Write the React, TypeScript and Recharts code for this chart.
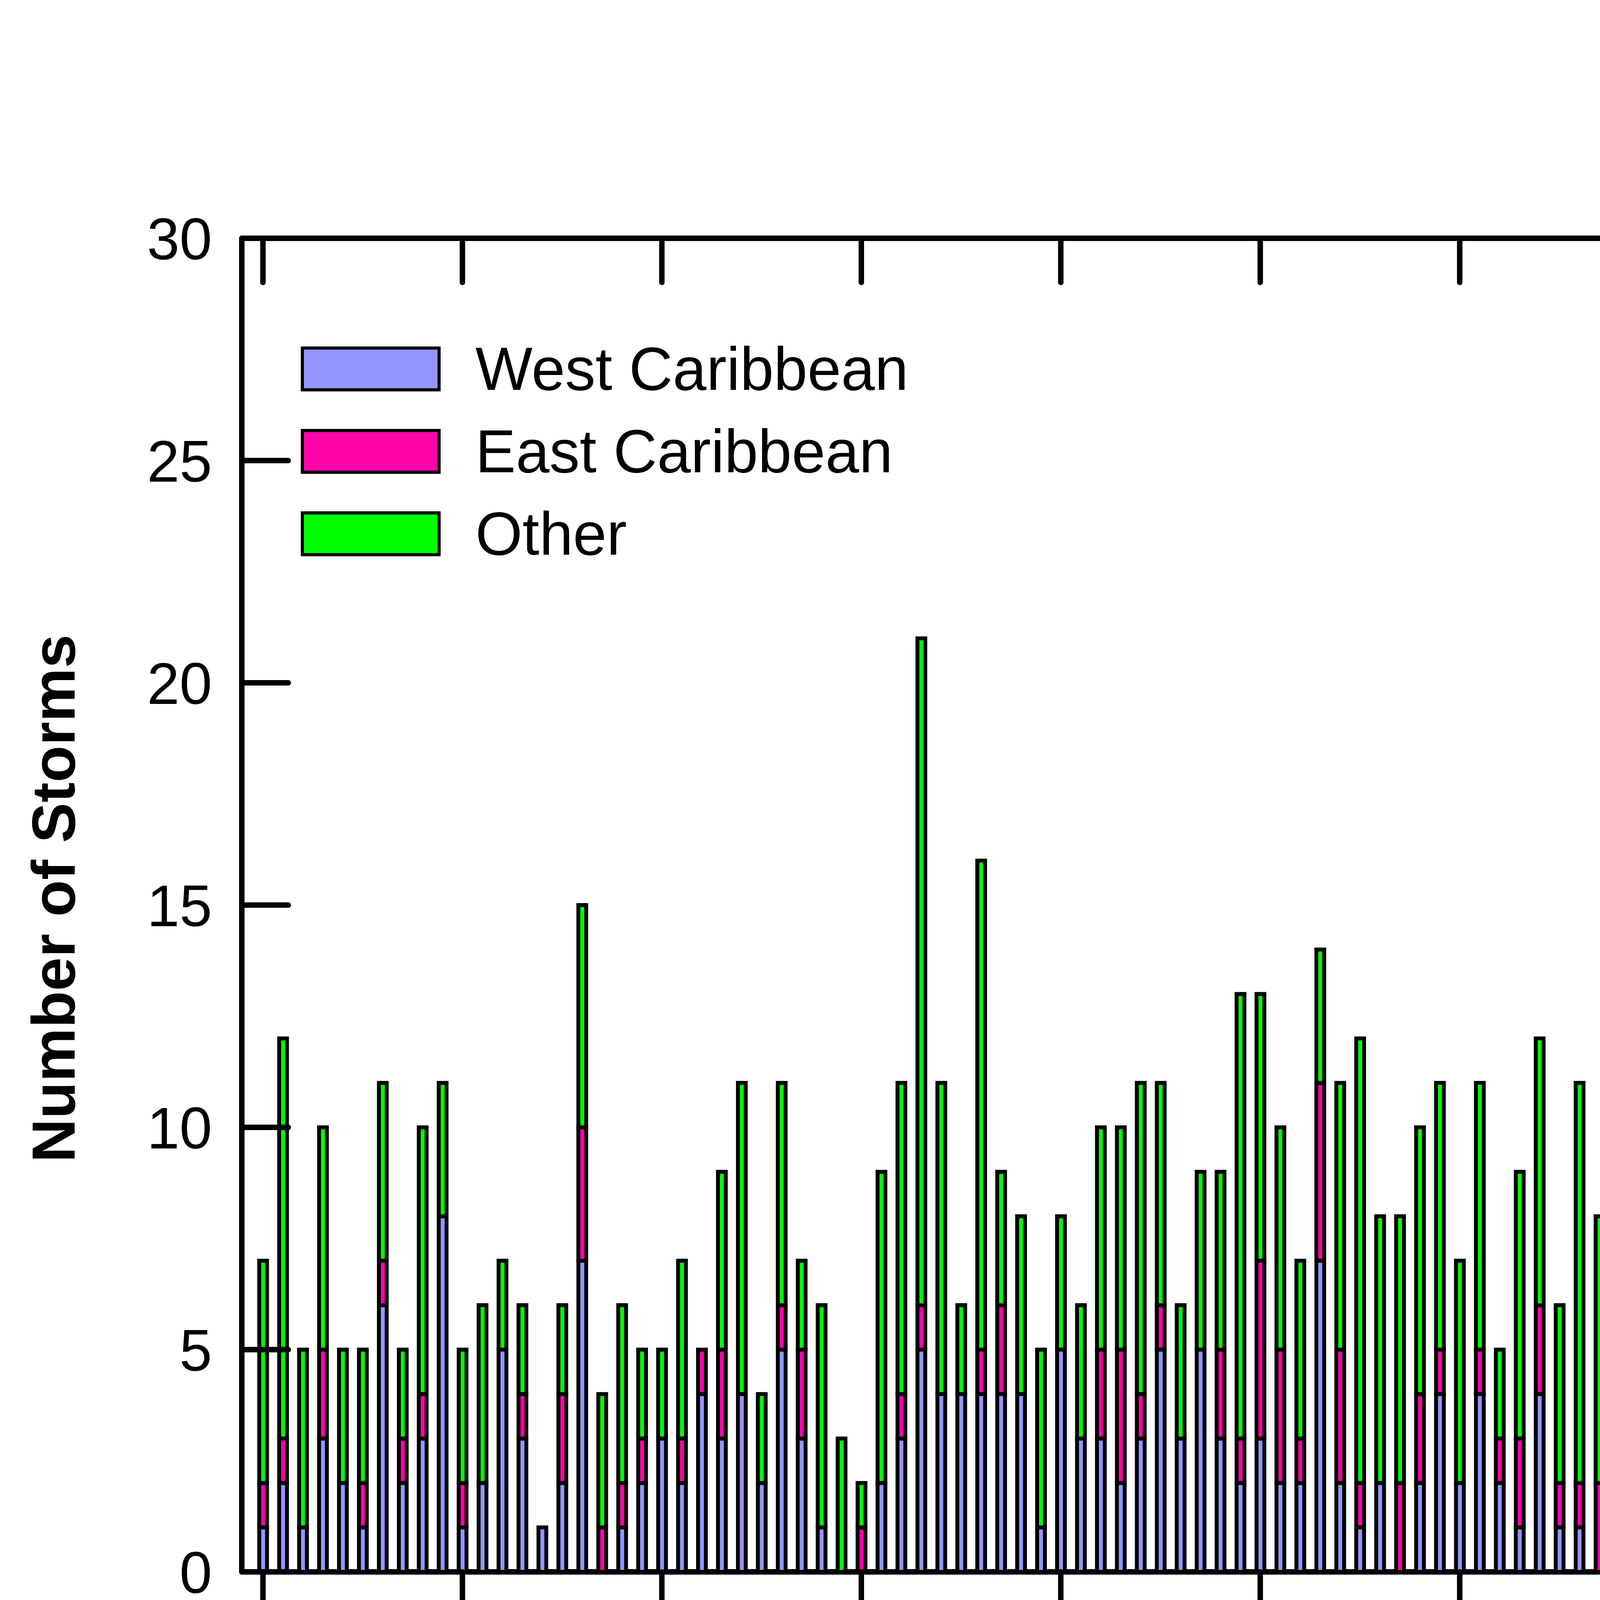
import React from 'react';
import { ComposedChart, Bar, Line, XAxis, YAxis, ReferenceArea, Legend } from 'recharts';

const years = [
  1900, 1901, 1902, 1903, 1904, 1905, 1906, 1907, 1908, 1909,
  1910, 1911, 1912, 1913, 1914, 1915, 1916, 1917, 1918, 1919,
  1920, 1921, 1922, 1923, 1924, 1925, 1926, 1927, 1928, 1929,
  1930, 1931, 1932, 1933, 1934, 1935, 1936, 1937, 1938, 1939,
  1940, 1941, 1942, 1943, 1944, 1945, 1946, 1947, 1948, 1949,
  1950, 1951, 1952, 1953, 1954, 1955, 1956, 1957, 1958, 1959,
  1960, 1961, 1962, 1963, 1964, 1965, 1966, 1967, 1968, 1969,
  1970, 1971, 1972, 1973, 1974, 1975, 1976, 1977, 1978, 1979,
  1980, 1981, 1982, 1983, 1984, 1985, 1986, 1987, 1988, 1989,
  1990, 1991, 1992, 1993, 1994, 1995, 1996, 1997, 1998, 1999,
  2000, 2001, 2002, 2003, 2004, 2005, 2006, 2007, 2008, 2009,
];

const westCaribbean = [
  1, 2, 1, 3, 2, 1, 6, 2, 3, 8,
  1, 2, 5, 3, 1, 2, 7, 0, 1, 2,
  3, 2, 4, 3, 4, 2, 5, 3, 1, 0,
  0, 2, 3, 5, 4, 4, 4, 4, 4, 1,
  5, 3, 3, 2, 3, 5, 3, 5, 3, 2,
  3, 2, 2, 7, 2, 1, 2, 0, 2, 4,
  2, 4, 2, 1, 4, 1, 1, 0, 5, 7,
  7, 3, 3, 2, 4, 4, 4, 2, 2, 0,
  2, 2, 3, 2, 3, 5, 1, 2, 1, 1,
  3, 3, 0, 1, 2, 4, 4, 1, 1, 3,
  6, 2, 3, 3, 0, 9, 1, 2, 3, 3,
];

const eastCaribbean = [
  1, 1, 0, 2, 0, 1, 1, 1, 1, 0,
  1, 0, 0, 1, 0, 2, 3, 1, 1, 1,
  0, 1, 1, 2, 0, 0, 1, 2, 0, 0,
  1, 0, 1, 1, 0, 0, 1, 2, 0, 0,
  0, 0, 2, 3, 1, 1, 0, 0, 2, 1,
  4, 3, 1, 4, 3, 1, 0, 2, 2, 1,
  0, 1, 1, 2, 2, 1, 1, 2, 0, 2,
  0, 2, 0, 2, 1, 1, 3, 1, 2, 2,
  0, 2, 2, 0, 2, 1, 1, 1, 1, 4,
  3, 2, 2, 1, 2, 6, 0, 2, 1, 4,
  5, 4, 0, 4, 1, 2, 1, 1, 1, 2,
];

const otherStorms = [
  5, 9, 4, 5, 3, 3, 4, 2, 6, 3,
  3, 4, 2, 2, 0, 2, 5, 3, 4, 2,
  2, 4, 0, 4, 7, 2, 5, 2, 5, 3,
  1, 7, 7, 15, 7, 2, 11, 3, 4, 4,
  3, 3, 5, 5, 7, 5, 3, 4, 4, 10,
  6, 5, 4, 3, 6, 10, 6, 6, 6, 6,
  5, 6, 2, 6, 6, 4, 9, 6, 3, 9,
  3, 8, 4, 4, 6, 4, 3, 3, 8, 7,
  9, 8, 1, 2, 8, 5, 4, 4, 10, 6,
  8, 3, 5, 6, 3, 9, 9, 5, 12, 5,
  4, 9, 9, 9, 14, 17, 8, 12, 12, 4,
];

const xTicks = [1900, 1910, 1920, 1930, 1940, 1950, 1960, 1970, 1980, 1990, 2000, 2010];
const yTicks = [0, 5, 10, 15, 20, 25, 30];

const seriesOrder = ['west', 'east', 'other'];
const seriesColors: Record<string, string> = {
  west: '#9595FF',
  east: '#FF04AA',
  other: '#00FF00',
};

const data = years.map((year, i) => ({
  year,
  west: westCaribbean[i],
  east: eastCaribbean[i],
  other: otherStorms[i],
}));

const FONT = '"Liberation Sans", Arial, Helvetica, sans-serif';
const X_MIN = 1898.94;
const X_MAX = 2010;

const BottomTick = (props: any) => {
  const { x, y, payload } = props;
  return (
    <g>
      <line x1={x} y1={y} x2={x} y2={y + 117} stroke="#000" strokeWidth={14} strokeLinecap="round" />
      <text x={x} y={y + 333} textAnchor="middle" fontSize={158} fontFamily={FONT} fill="#000">
        {payload.value}
      </text>
    </g>
  );
};

const TopTick = (props: any) => {
  const { x, y } = props;
  return <line x1={x} y1={y} x2={x} y2={y + 113} stroke="#000" strokeWidth={14} strokeLinecap="round" />;
};

const LeftTick = (props: any) => {
  const { x, y, payload } = props;
  return (
    <g>
      <line x1={x} y1={y} x2={x + 119} y2={y} stroke="#000" strokeWidth={14} strokeLinecap="round" />
      <text x={x - 76} y={y + 54} textAnchor="end" fontSize={150} fontFamily={FONT} fill="#000">
        {payload.value}
      </text>
    </g>
  );
};

const RightTick = (props: any) => {
  const { x, y } = props;
  return <line x1={x} y1={y} x2={x - 116} y2={y} stroke="#000" strokeWidth={14} strokeLinecap="round" />;
};

const BarSegment = (props: any) => {
  const { x, y, width, height, fill } = props;
  if (x == null || y == null || width == null || height == null) return null;
  const top = Math.min(y, y + height);
  const h = Math.abs(height);
  return <rect x={x} y={top} width={width} height={h} fill={fill} stroke="#000" strokeWidth={10} />;
};

const renderLegend = (props: any) => {
  const payload = [...(props.payload || [])]
    .filter((e: any) => seriesOrder.indexOf(e.dataKey) >= 0 && e.type !== 'none')
    .sort((a: any, b: any) => seriesOrder.indexOf(a.dataKey) - seriesOrder.indexOf(b.dataKey));
  return (
    <div>
      {payload.map((entry: any, i: number) => (
        <div
          key={String(entry.dataKey) + i}
          style={{ display: 'flex', alignItems: 'center', height: 115, marginBottom: i < payload.length - 1 ? 96 : 0 }}
        >
          <div
            style={{
              width: 358,
              height: 115,
              boxSizing: 'border-box',
              border: '8px solid #000',
              background: seriesColors[entry.dataKey] || entry.color,
            }}
          />
          <span style={{ marginLeft: 89, fontSize: 155, lineHeight: 1, fontFamily: FONT, color: '#000', whiteSpace: 'nowrap' }}>
            {entry.value}
          </span>
        </div>
      ))}
    </div>
  );
};

const YLabel = () => (
  <text
    x={191}
    y={2300}
    transform="rotate(-90 191 2300)"
    textAnchor="middle"
    fontSize={155}
    fontWeight="bold"
    fontFamily={FONT}
    fill="#000"
  >
    Number of Storms
  </text>
);

export default function App() {
  return (
    <div style={{ position: 'absolute', left: 0, top: 0, width: 6614, height: 4582, background: '#fff' }}>
      <ComposedChart
        width={6614}
        height={4582}
        data={data}
        margin={{ top: 609, right: 323, bottom: 557, left: 618 }}
        barGap={0}
      >
        <XAxis
          dataKey="year"
          type="number"
          domain={[X_MIN, X_MAX]}
          allowDataOverflow
          ticks={xTicks}
          interval={0}
          height={1}
          tickSize={0}
          tickMargin={0}
          tickLine={false}
          axisLine={false}
          tick={BottomTick}
        />
        <XAxis
          xAxisId="top"
          dataKey="year"
          orientation="top"
          type="number"
          domain={[X_MIN, X_MAX]}
          allowDataOverflow
          ticks={xTicks}
          interval={0}
          height={1}
          tickSize={0}
          tickMargin={0}
          tickLine={false}
          axisLine={false}
          tick={TopTick}
        />
        <YAxis
          type="number"
          domain={[0, 30]}
          allowDataOverflow
          ticks={yTicks}
          interval={0}
          width={1}
          tickSize={0}
          tickMargin={0}
          tickLine={false}
          axisLine={false}
          tick={LeftTick}
          label={{ content: YLabel }}
        />
        <YAxis
          yAxisId="right"
          orientation="right"
          type="number"
          domain={[0, 30]}
          allowDataOverflow
          ticks={yTicks}
          interval={0}
          width={1}
          tickSize={0}
          tickMargin={0}
          tickLine={false}
          axisLine={false}
          tick={RightTick}
        />
        <Bar dataKey="west" name="West Caribbean" stackId="s" fill={seriesColors.west} stroke="#000" strokeWidth={10} barSize={20} shape={BarSegment} isAnimationActive={false} />
        <Bar dataKey="east" name="East Caribbean" stackId="s" fill={seriesColors.east} stroke="#000" strokeWidth={10} barSize={20} shape={BarSegment} isAnimationActive={false} />
        <Bar dataKey="other" name="Other" stackId="s" fill={seriesColors.other} stroke="#000" strokeWidth={10} barSize={20} shape={BarSegment} isAnimationActive={false} />
        <Line
          xAxisId="top"
          yAxisId="right"
          dataKey="west"
          stroke="none"
          strokeOpacity={0}
          dot={false}
          activeDot={false}
          legendType="none"
          isAnimationActive={false}
        />
        <ReferenceArea
          x1={X_MIN}
          x2={X_MAX}
          y1={0}
          y2={30}
          ifOverflow="visible"
          fill="none"
          fillOpacity={0}
          stroke="#000"
          strokeWidth={14}
          strokeLinejoin="round"
        />
        <Legend
          layout="horizontal"
          verticalAlign="middle"
          align="center"
          wrapperStyle={{ left: 770, top: 887, width: 1900, height: 650 }}
          content={renderLegend}
        />
      </ComposedChart>
    </div>
  );
}
